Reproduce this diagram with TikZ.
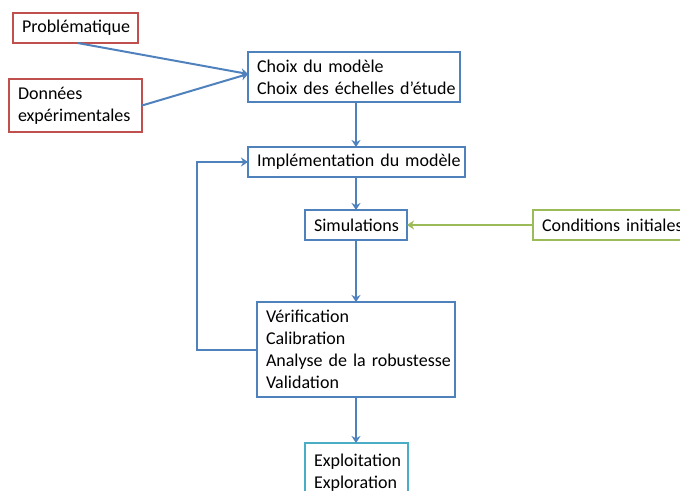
\documentclass[tikz,border=0pt]{standalone}
\usepackage{fontspec}
\setmainfont{Carlito}[WordSpace=0.55]
\usetikzlibrary{positioning,arrows.meta}

\definecolor{lineblue}{RGB}{79,129,189}
\definecolor{inred}{RGB}{192,80,77}
\definecolor{ingreen}{RGB}{155,187,89}
\definecolor{outcyan}{RGB}{75,172,198}

\lefthyphenmin=64

\tikzset{
  box/.style={draw=lineblue, line width=1.8pt, fill=white, inner xsep=9pt, inner ysep=2pt,
    outer sep=0pt, align=left, anchor=north west, font=\fontsize{18}{22}\selectfont},
  inbox/.style={box, draw=inred},
  initbox/.style={box, draw=ingreen},
  outbox/.style={box, draw=outcyan},
  flow/.style={-{Stealth[length=7pt,width=9pt]}, line width=2pt, draw=lineblue},
  initflow/.style={flow, draw=ingreen}
}

\begin{document}
\begin{tikzpicture}[x=1pt, y=1pt]

  \clip (0,0) rectangle (680,-490);
  \useasboundingbox (0,0) rectangle (680,-490);

  % Inputs
  \node[inbox, text width=107pt, minimum height=30pt] at (13,-13) (prob) {Problématique};
  \node[inbox, text width=115pt, minimum height=53pt] at (9,-79) (data) {Données\\expérimentales};

  % Model
  \node[box, text width=194pt, minimum height=50pt] at (248,-52) (choix)
    {Choix~du~modèle\\Choix~des~échelles~d’étude};
  \node[box, text width=199pt, minimum height=30pt, below=45pt of choix.south west, anchor=north west]
    (impl) {Implémentation~du~modèle};

  % Simulations and initial conditions
  \node[box, text width=84pt, minimum height=30pt, below=33pt of impl.south west, anchor=north west,
    xshift=57pt] (sim) {Simulations};
  \node[initbox, text width=160pt, minimum height=30pt, right=126pt of sim.north east, anchor=north west]
    (init) {Conditions~initiales};

  % Checks
  \node[box, text width=180pt, minimum height=95pt, below=62pt of sim.south west, anchor=north west,
    xshift=-48pt] (verif) {Vérification\\Calibration\\Analyse~de~la~robustesse\\Validation};

  % Use
  \node[outbox, text width=85pt, minimum height=60pt, below=46pt of verif.south west, anchor=north west,
    xshift=48pt] (expl) {Exploitation\\Exploration};

  % Loop corner
  \coordinate (loop) at ([xshift=-60pt]verif.west);

  % Edges
  \draw[flow] ([xshift=2pt]prob.south) -- ([yshift=3pt]choix.west);
  \draw[flow] (data.east) -- ([yshift=3pt]choix.west);
  \draw[flow] (choix.south -| sim.north) -- (impl.north -| sim.north);
  \draw[flow] (impl.south -| sim.north) -- (sim.north);
  \draw[flow] (sim.south) -- (verif.north -| sim.south);
  \draw[flow] (verif.south -| sim.south) -- (expl.north -| sim.south);
  \draw[initflow] (init.west) -- (sim.east);
  \draw[flow] (verif.west) -- (loop) |- (impl.west);

\end{tikzpicture}
\end{document}
